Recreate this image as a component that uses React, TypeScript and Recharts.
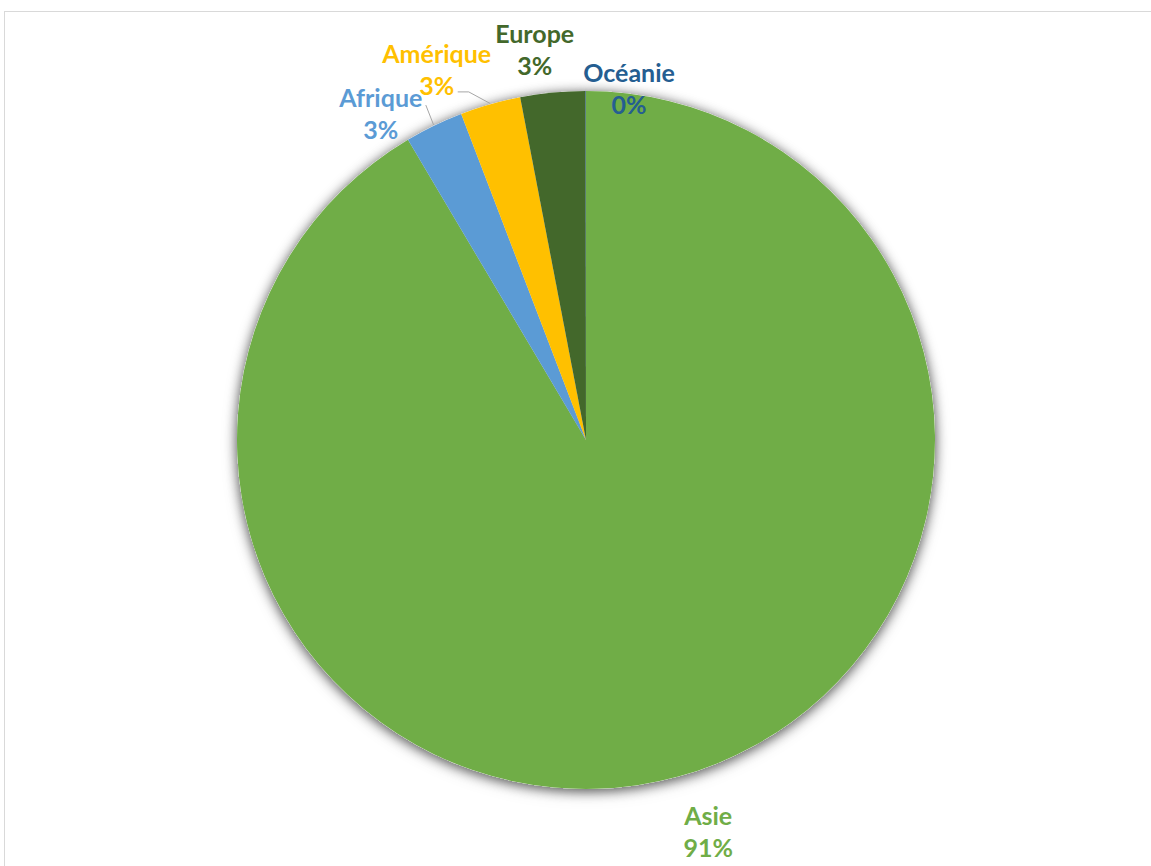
import { PieChart, Pie, Cell } from 'recharts';

const regions = ['Asie', 'Afrique', 'Amérique', 'Europe', 'Océanie'];
const shares = [91.48, 2.7, 2.8, 3.0, 0.02];
const colors = ['#70AD47', '#5B9BD5', '#FFC000', '#43682B', '#255E91'];

// label placement: extra radius beyond the pie and angle nudge (deg)
const labelExtra = [61, 37, 51, 45, 6];
const labelShift = [2, 6.3, 6, 2, -7];
const hasLeader = [false, true, true, false, false];

const data = regions.map((name, i) => ({ name, value: shares[i] }));

const RAD = Math.PI / 180;

function renderLabel(props: any) {
  const { cx, cy, midAngle, outerRadius, index, percent } = props;
  const a = (midAngle + labelShift[index]) * RAD;
  const r = outerRadius + labelExtra[index];
  const x = cx + r * Math.cos(a);
  const y = cy - r * Math.sin(a);
  const color = colors[index];
  let leader = null;
  if (hasLeader[index]) {
    const m = midAngle * RAD;
    const ex = cx + (outerRadius + 1) * Math.cos(m);
    const ey = cy - (outerRadius + 1) * Math.sin(m);
    const pts =
      index === 2
        ? `${ex},${ey} ${x + 32},${y + 23} ${x + 21},${y + 23}`
        : `${ex},${ey} ${x + 45},${y - 8}`;
    leader = <polyline points={pts} fill="none" stroke="#A6A6A6" strokeWidth={1} />;
  }
  return (
    <g key={`lbl-${index}`}>
      {leader}
      <text
        x={x}
        y={y}
        textAnchor="middle"
        fill={color}
        fontFamily="Lato, 'Open Sans', sans-serif"
        fontWeight={700}
        fontSize={25}
      >
        <tspan x={x} dy={-6}>{regions[index]}</tspan>
        <tspan x={x} dy={32}>{`${Math.round(percent * 100)}%`}</tspan>
      </text>
    </g>
  );
}

export default function App() {
  return (
    <div style={{ position: 'absolute', left: 0, top: 0, width: 1151, height: 866, background: '#fff', overflow: 'hidden' }}>
      <div
        style={{
          position: 'absolute',
          left: 4,
          top: 11,
          width: 1200,
          height: 900,
          borderTop: '1px solid #D9D9D9',
          borderLeft: '1px solid #D9D9D9',
        }}
      />
      <style>{`.pie-shadow { filter: url(#pieShadow); }`}</style>
      <div style={{ position: 'absolute', left: 0, top: 0 }}>
        <PieChart width={1151} height={866} margin={{ top: 0, right: 0, bottom: 0, left: 0 }}>
          <defs>
            <filter id="pieShadow" x="-20%" y="-20%" width="140%" height="140%">
              <feDropShadow dx="0" dy="2" stdDeviation="6" floodColor="#000" floodOpacity="0.4" />
            </filter>
          </defs>
          <Pie
            className="pie-shadow"
            data={data}
            dataKey="value"
            nameKey="name"
            cx={586}
            cy={440}
            outerRadius={349}
            startAngle={90}
            endAngle={-270}
            fill="#fff"
            stroke="none"
            label={false}
            labelLine={false}
            isAnimationActive={false}
          />
          <Pie
            data={data}
            dataKey="value"
            nameKey="name"
            cx={586}
            cy={440}
            outerRadius={349}
            startAngle={90}
            endAngle={-270}
            stroke="none"
            label={renderLabel}
            labelLine={false}
            isAnimationActive={false}
          >
            {data.map((d, i) => (
              <Cell key={d.name} fill={colors[i]} />
            ))}
          </Pie>
        </PieChart>
      </div>
    </div>
  );
}
